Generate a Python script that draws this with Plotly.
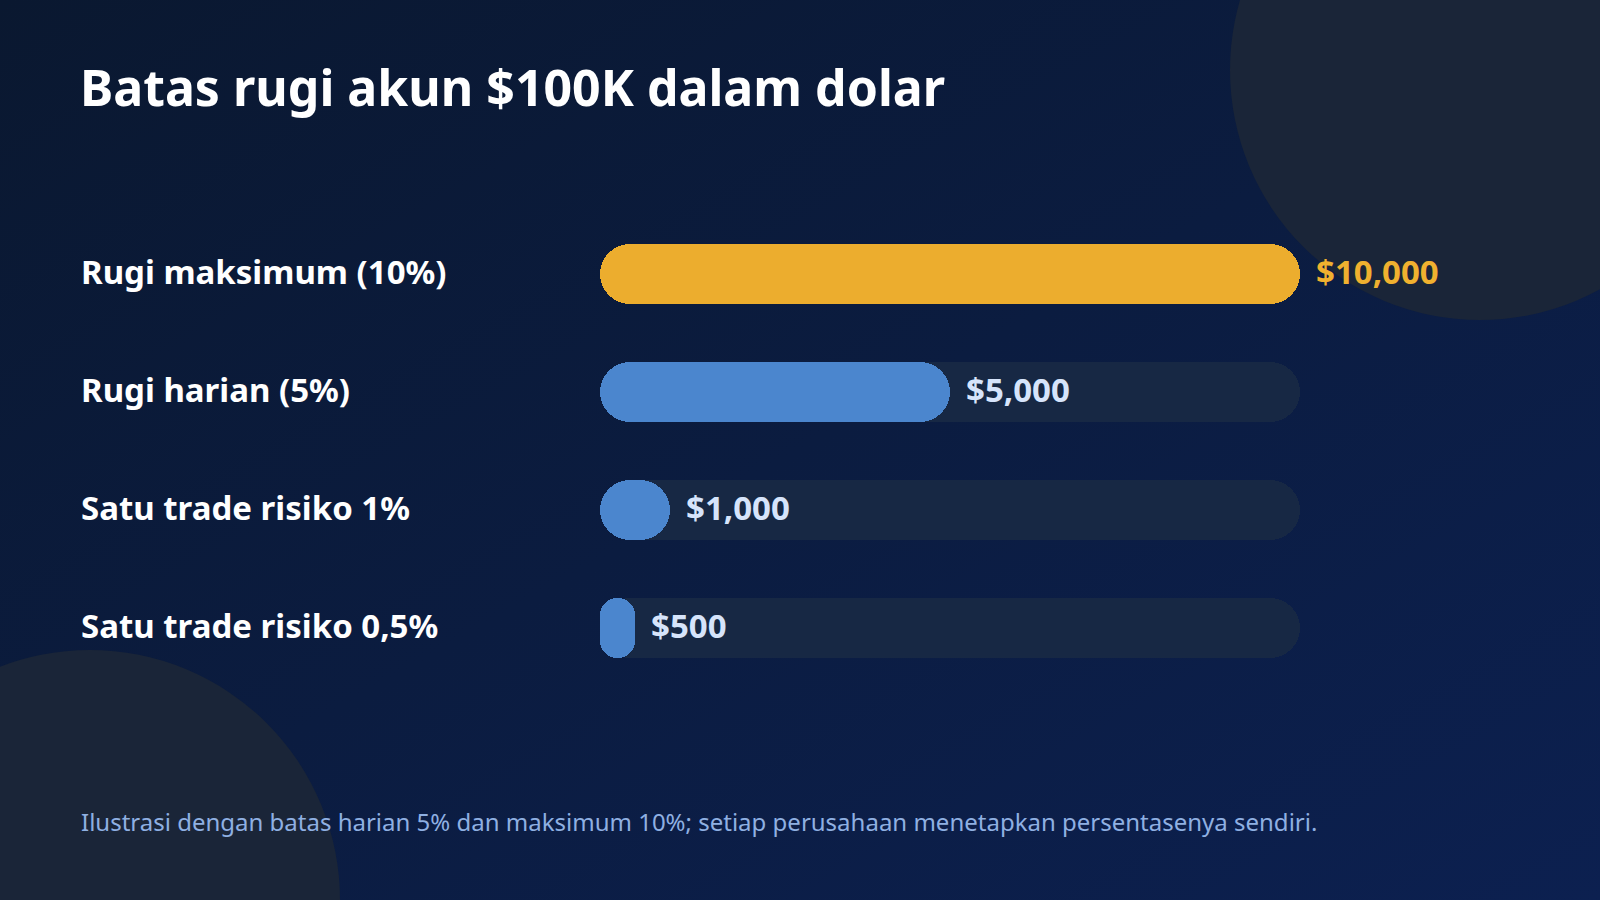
import base64
import plotly.graph_objects as go

# ---------------- data ----------------
categories = ["Rugi maksimum (10%)", "Rugi harian (5%)", "Satu trade risiko 1%", "Satu trade risiko 0,5%"]
values = [10000, 5000, 1000, 500]
value_labels = ["$10,000", "$5,000", "$1,000", "$500"]
title_text = "Batas rugi akun $100K dalam dolar"
footnote_text = "Ilustrasi dengan batas harian 5% dan maksimum 10%; setiap perusahaan menetapkan persentasenya sendiri."

# ---------------- style ----------------
W, H = 1600, 900
ML, MR, MT, MB = 600, 300, 215, 213
FONT = "Noto Sans"
YELLOW = "#ecad2e"
BLUE = "#4b86ce"
TRACK = "#172844"
fill_colors = [YELLOW if v == max(values) else BLUE for v in values]
label_colors = ["#f0b12f" if v == max(values) else "#d6e4fb" for v in values]

track_max = max(values)
idx = list(range(len(categories)))
row_px = (H - MT - MB) / len(categories)
bar_w = 60 / row_px
radius = 30
zeros = [0] * len(categories)
LEFT_X = (79 - ML) / (W - ML - MR)

fig = go.Figure()
tracks = [track_max] * len(categories)
fig.add_trace(go.Bar(y=idx, x=tracks, base=zeros, orientation="h",
                     width=bar_w, marker=dict(color=TRACK, cornerradius=radius, line=dict(width=0)),
                     hoverinfo="skip", showlegend=False))
fig.add_trace(go.Bar(y=idx, x=values, base=zeros, orientation="h",
                     width=bar_w, marker=dict(color=fill_colors, cornerradius=radius, line=dict(width=0)),
                     hoverinfo="skip", showlegend=False))

annotations = []
for i, (cat, v, lab, col) in enumerate(zip(categories, values, value_labels, label_colors)):
    annotations.append(dict(x=LEFT_X, xref="paper", y=i, yref="y", yshift=3,
                            text=cat, showarrow=False, xanchor="left", yanchor="middle",
                            font=dict(family=FONT, size=33, color="#ffffff", weight="bold")))
    annotations.append(dict(x=v, xref="x", y=i, yref="y", xshift=14, yshift=3,
                            text=lab, showarrow=False, xanchor="left", yanchor="middle",
                            font=dict(family=FONT, size=33, color=col, weight="bold")))

annotations.append(dict(x=LEFT_X, xref="paper",
                        y=(H - MB - 821) / (H - MT - MB), yref="paper",
                        text=footnote_text, showarrow=False, xanchor="left", yanchor="middle",
                        font=dict(family=FONT, size=24, color="#8fb0e2")))

def pxx(px):
    return (px - ML) / (W - ML - MR)

def pxy(py):
    return (H - MB - py) / (H - MT - MB)

CIRCLE = "#1a2538"
shapes = [
    dict(type="circle", xref="paper", yref="paper", layer="below",
         x0=pxx(1230), x1=pxx(1730), y0=pxy(320), y1=pxy(-180),
         fillcolor=CIRCLE, line=dict(width=0)),
    dict(type="circle", xref="paper", yref="paper", layer="below",
         x0=pxx(-160), x1=pxx(340), y0=pxy(1150), y1=pxy(650),
         fillcolor=CIRCLE, line=dict(width=0)),
]

svg = f'''<svg xmlns="http://www.w3.org/2000/svg" width="{W}" height="{H}" viewBox="0 0 {W} {H}">
<defs><linearGradient id="g" x1="0" y1="0" x2="1" y2="1">
<stop offset="0" stop-color="#0a1830"/><stop offset="1" stop-color="#0c2050"/></linearGradient></defs>
<rect width="{W}" height="{H}" fill="url(#g)"/></svg>'''
svg_uri = "data:image/svg+xml;base64," + base64.b64encode(svg.encode()).decode()

fig.update_layout(
    width=W, height=H,
    margin=dict(l=ML, r=MR, t=MT, b=MB, pad=0),
    paper_bgcolor="#0a1b3c", plot_bgcolor="rgba(0,0,0,0)",
    barmode="overlay", bargap=0,
    xaxis=dict(range=[0, track_max], visible=False, fixedrange=True),
    yaxis=dict(range=[len(categories) - 0.5, -0.5], visible=False, fixedrange=True),
    title=dict(text=title_text, xref="container", yref="container",
               x=80 / W, y=1 - 88 / H, xanchor="left", yanchor="middle",
               font=dict(family=FONT, size=50, color="#ffffff", weight="bold")),
    annotations=annotations,
    shapes=shapes,
    images=[dict(source=svg_uri, xref="paper", yref="paper",
                 x=pxx(0), y=pxy(0), sizex=pxx(W) - pxx(0), sizey=pxy(0) - pxy(H),
                 xanchor="left", yanchor="top", sizing="stretch", layer="below")],
    showlegend=False,
)

fig.write_html("out.html", config={"displayModeBar": False},
               post_script="document.body.style.margin='0';document.body.style.overflow='hidden';")
